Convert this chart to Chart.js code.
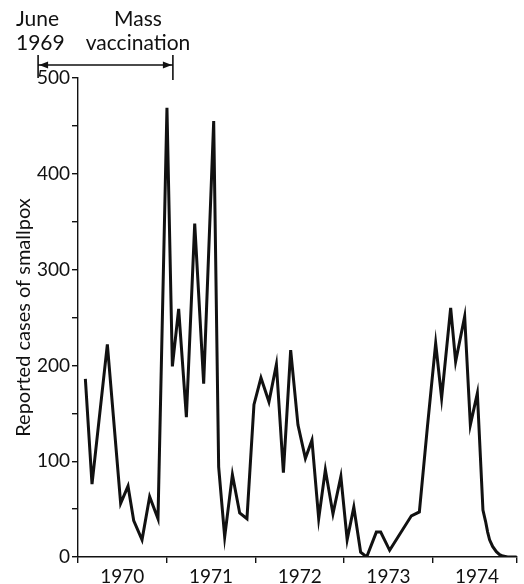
<!DOCTYPE html>
<html>
<head>
<meta charset="utf-8">
<script src="https://cdn.jsdelivr.net/npm/chart.js@4.4.1/dist/chart.umd.min.js"></script>
<style>
  html, body { margin: 0; padding: 0; background: #fff; }
  #wrap { width: 524px; height: 584px; }
</style>
</head>
<body>
<div id="wrap"><canvas id="chart" width="524" height="584"></canvas></div>
<script>
// Reported cases of smallpox (x in decimal years)
const years = [
  1970.083, 1970.158, 1970.331, 1970.481, 1970.564, 1970.628, 1970.722, 1970.808, 1970.902,
  1971.003, 1971.064, 1971.135, 1971.222, 1971.316, 1971.417, 1971.530, 1971.586, 1971.654,
  1971.741, 1971.823, 1971.905, 1971.984,
  1972.063, 1972.153, 1972.237, 1972.316, 1972.398, 1972.480, 1972.564, 1972.638, 1972.714,
  1972.789, 1972.875, 1972.964,
  1973.035, 1973.110, 1973.187, 1973.255, 1973.364, 1973.413, 1973.514, 1973.759, 1973.849, 1973.939,
  1974.033, 1974.100, 1974.202, 1974.258, 1974.360, 1974.424, 1974.503, 1974.566, 1974.596,
  1974.619, 1974.641, 1974.675, 1974.717, 1974.754, 1974.791, 1974.845, 1974.946
]
const cases = [
  186, 76, 222, 56, 74, 38, 18, 63, 40,
  469, 199, 259, 146, 348, 181, 455, 94, 21,
  86, 46, 40, 159,
  187, 162, 201, 88, 216, 138, 103, 122, 40,
  91, 45, 84,
  18, 52, 5, 0, 26, 26, 7, 43, 47, 135,
  223, 166, 260, 204, 251, 138, 171, 49, 37,
  26, 18, 11, 5.5, 2.5, 1, 0, 0
]

// axis labels
const yearTicks = [1970, 1971, 1972, 1973, 1974]
const yearLabels = ["1970", "1971", "1972", "1973", "1974"]
const xMin = 1970
const xMax = 1974.95
const yMax = 500

// vaccination campaign span
const campaign = { start: 1969.55, end: 1971.07 }

const ink = "#111"
const FONT = "Lato, 'Open Sans', sans-serif"

// arrow + text above the plot
const campaignNote = {
  id: "campaignNote",
  afterDraw(chart) {
    const ctx = chart.ctx
    const xs = chart.scales.x
    const x0 = xs.getPixelForValue(campaign.start)
    const x1 = xs.getPixelForValue(campaign.end)
    const yArrow = 65

    ctx.save()
    ctx.fillStyle = ink
    ctx.strokeStyle = ink
    ctx.font = "21px " + FONT
    ctx.textBaseline = "alphabetic"
    ctx.textAlign = "left"
    ctx.fillText("June", 16, 26)
    ctx.fillText("1969", 16, 50)
    ctx.textAlign = "center"
    ctx.fillText("Mass", 138, 26)
    ctx.fillText("vaccination", 138, 50)

    // span line with end bars
    ctx.lineWidth = 1.6
    ctx.beginPath()
    ctx.moveTo(x0, yArrow)
    ctx.lineTo(x1, yArrow)
    ctx.moveTo(x0, 55)
    ctx.lineTo(x0, 78)
    ctx.moveTo(x1, 55)
    ctx.lineTo(x1, 80)
    ctx.stroke()

    // arrow heads
    ctx.beginPath()
    ctx.moveTo(x0 + 1, yArrow)
    ctx.lineTo(x0 + 10, yArrow - 3.5)
    ctx.lineTo(x0 + 10, yArrow + 3.5)
    ctx.closePath()
    ctx.moveTo(x1 - 1, yArrow)
    ctx.lineTo(x1 - 10, yArrow - 3.5)
    ctx.lineTo(x1 - 10, yArrow + 3.5)
    ctx.closePath()
    ctx.fill()
    ctx.restore()
  },
}

new Chart(document.getElementById("chart"), {
  type: "line",
  data: {
    datasets: [
      {
        data: years.map((x, i) => ({ x: x, y: cases[i] })),
        borderColor: ink,
        borderWidth: 3,
        pointRadius: 0,
        tension: 0,
        fill: false,
      },
    ],
  },
  options: {
    responsive: false,
    devicePixelRatio: 1,
    animation: false,
    layout: { padding: { top: 78, right: 7, left: 0, bottom: 0 } },
    plugins: {
      legend: { display: false },
      tooltip: { enabled: false },
    },
    scales: {
      x: {
        type: "linear",
        min: xMin,
        max: xMax,
        afterBuildTicks(scale) {
          const t = []
          yearTicks.forEach((y) => {
            t.push({ value: y })
            t.push({ value: y + 0.5 })
          })
          t.push({ value: xMax })
          scale.ticks = t
        },
        afterFit(scale) {
          scale.height = 27
        },
        border: { display: true, color: ink, width: 1.4 },
        grid: {
          drawOnChartArea: false,
          drawTicks: true,
          tickLength: 6,
          lineWidth: 1.4,
          color: (c) => {
            if (!c.tick) return "transparent"
            const v = c.tick.value
            return Number.isInteger(v) || v === xMax ? ink : "transparent"
          },
        },
        ticks: {
          autoSkip: false,
          maxRotation: 0,
          padding: 2,
          color: ink,
          font: { family: FONT, size: 19 },
          callback: (v) => {
            const i = yearTicks.indexOf(Math.round((v - 0.5) * 10) / 10)
            return i >= 0 && Math.abs(v % 1 - 0.5) < 1e-6 ? yearLabels[i] : ""
          },
        },
      },
      y: {
        min: 0,
        max: yMax,
        afterFit(scale) {
          scale.width = 78
        },
        border: { display: true, color: ink, width: 1.4 },
        grid: {
          drawOnChartArea: false,
          drawTicks: true,
          tickLength: 6,
          lineWidth: 1.4,
          color: ink,
        },
        ticks: {
          stepSize: 50,
          padding: 2,
          color: ink,
          font: { family: FONT, size: 19 },
          callback: (v) => (v % 100 === 0 ? String(v) : ""),
        },
        title: {
          display: true,
          text: "Reported cases of smallpox",
          color: ink,
          font: { family: FONT, size: 20 },
          padding: { top: 12, bottom: 0 },
        },
      },
    },
  },
  plugins: [campaignNote],
})
</script>
</body>
</html>
